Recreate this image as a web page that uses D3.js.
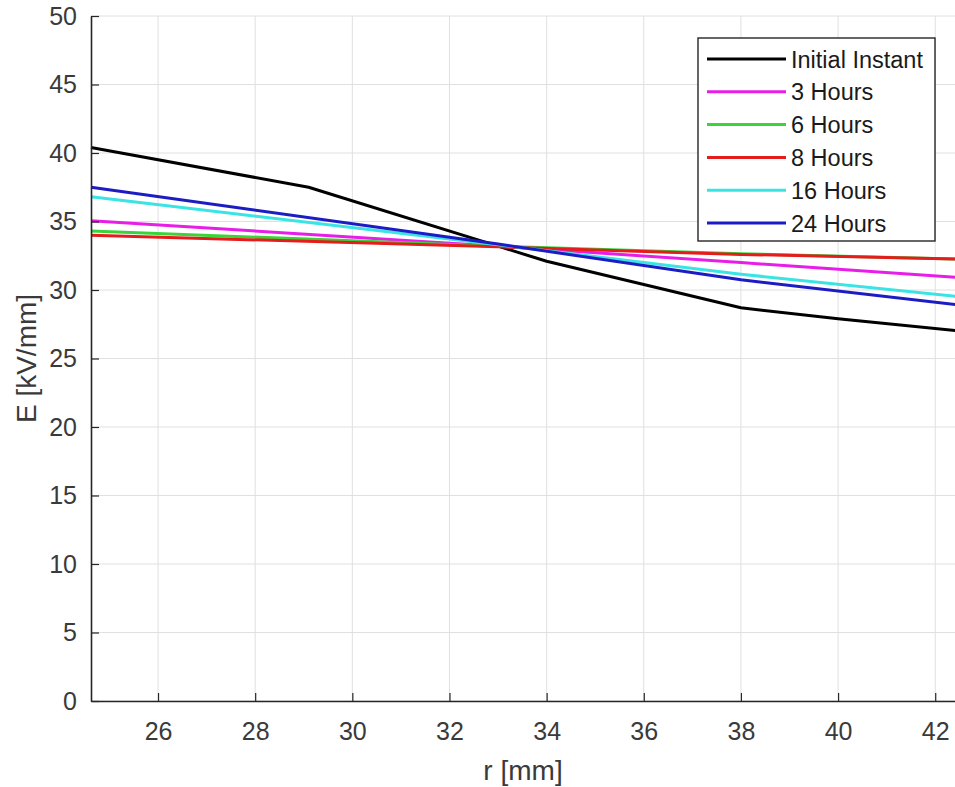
<!DOCTYPE html>
<html>
<head>
<meta charset="utf-8">
<script src="https://cdn.jsdelivr.net/npm/d3@7"></script>
<style>
  body { margin: 0; background: #fff; }
  text { font-family: "Liberation Sans", Arial, sans-serif; }
</style>
</head>
<body>
<div id="chart"></div>
<script>
// data
const rInitial = [24.62, 29.1, 33, 34, 36, 38, 40, 42.51];
const eInitial = [40.4, 37.5, 33.2, 32.1, 30.4, 28.7, 27.9, 27.0];

const rLater = [24.62, 33, 38, 42.51];
const e3h = [35.06, 33.2, 32.0, 30.9];
const e6h = [34.3, 33.2, 32.65, 32.25];
const e8h = [34.0, 33.15, 32.6, 32.25];
const e16h = [36.8, 33.3, 31.15, 29.5];
const e24h = [37.5, 33.35, 30.75, 28.9];

const seriesNames = ['Initial Instant', '3 Hours', '6 Hours', '8 Hours', '16 Hours', '24 Hours'];
const seriesColors = ['#000000', '#e81ee8', '#3ad43a', '#e41c1c', '#3ae4e4', '#1c1cc4'];

const xTicks = [26, 28, 30, 32, 34, 36, 38, 40, 42];
const yTicks = [0, 5, 10, 15, 20, 25, 30, 35, 40, 45, 50];

const series = [
  { name: seriesNames[0], color: seriesColors[0], r: rInitial, e: eInitial },
  { name: seriesNames[1], color: seriesColors[1], r: rLater, e: e3h },
  { name: seriesNames[2], color: seriesColors[2], r: rLater, e: e6h },
  { name: seriesNames[3], color: seriesColors[3], r: rLater, e: e8h },
  { name: seriesNames[4], color: seriesColors[4], r: rLater, e: e16h },
  { name: seriesNames[5], color: seriesColors[5], r: rLater, e: e24h }
];

const width = 955, height = 787;
const margin = { top: 16, right: -5, bottom: 86, left: 91 };

const svg = d3.select('#chart')
  .append('svg')
  .attr('width', width)
  .attr('height', height);

const x = d3.scaleLinear()
  .domain([24.62, 42.51])
  .range([margin.left, width - margin.right]);

const y = d3.scaleLinear()
  .domain([0, 50])
  .range([height - margin.bottom, margin.top]);

// grid
svg.append('g')
  .selectAll('line')
  .data(xTicks)
  .enter()
  .append('line')
  .attr('x1', d => x(d)).attr('x2', d => x(d))
  .attr('y1', y(0)).attr('y2', y(50))
  .style('stroke', '#e0e0e0')
  .style('stroke-width', 1);

svg.append('g')
  .selectAll('line')
  .data(yTicks)
  .enter()
  .append('line')
  .attr('x1', x.range()[0]).attr('x2', x.range()[1])
  .attr('y1', d => y(d)).attr('y2', d => y(d))
  .style('stroke', '#e0e0e0')
  .style('stroke-width', 1);

// lines
const line = d3.line()
  .x(d => x(d[0]))
  .y(d => y(d[1]));

svg.append('g')
  .selectAll('path')
  .data(series)
  .enter()
  .append('path')
  .attr('d', d => line(d.r.map((v, i) => [v, d.e[i]])))
  .style('fill', 'none')
  .style('stroke', d => d.color)
  .style('stroke-width', 3)
  .style('stroke-linejoin', 'round');

// axes
const xAxis = svg.append('g')
  .attr('transform', `translate(0, ${y(0)})`)
  .call(d3.axisBottom(x).tickValues(xTicks).tickSizeInner(-8).tickSizeOuter(0).tickPadding(21));

const yAxis = svg.append('g')
  .attr('transform', `translate(${x(24.62)}, 0)`)
  .call(d3.axisLeft(y).tickValues(yTicks).tickSizeInner(-8).tickSizeOuter(0).tickPadding(14));

[xAxis, yAxis].forEach(a => {
  a.select('.domain').style('stroke', '#262626').style('stroke-width', 1.6);
  a.selectAll('.tick line').style('stroke', '#262626').style('stroke-width', 1.2);
  a.selectAll('.tick text')
    .style('font-family', '"Liberation Sans", Arial, sans-serif')
    .style('font-size', '25px')
    .style('fill', '#3a3a3a');
});

// axis labels
svg.append('text')
  .attr('x', 523)
  .attr('y', 780)
  .attr('text-anchor', 'middle')
  .style('font-size', '28px')
  .style('fill', '#3a3a3a')
  .text('r [mm]');

svg.append('text')
  .attr('transform', `translate(36, ${y(25)}) rotate(-90)`)
  .attr('text-anchor', 'middle')
  .style('font-size', '28px')
  .style('fill', '#3a3a3a')
  .text('E [kV/mm]');

// legend
const legend = svg.append('g');
legend.append('rect')
  .attr('x', 698).attr('y', 38)
  .attr('width', 237).attr('height', 203)
  .style('fill', '#fff')
  .style('stroke', '#262626')
  .style('stroke-width', 1.4);

const item = legend.selectAll('g.item')
  .data(series)
  .enter()
  .append('g')
  .attr('class', 'item')
  .attr('transform', (d, i) => `translate(0, ${59 + i * 32.8})`);

item.append('line')
  .attr('x1', 707).attr('x2', 786)
  .attr('y1', 0).attr('y2', 0)
  .style('stroke', d => d.color)
  .style('stroke-width', 3);

item.append('text')
  .attr('x', 791)
  .attr('y', 8.5)
  .style('font-size', '23.5px')
  .style('fill', '#1a1a1a')
  .text(d => d.name);
</script>
</body>
</html>
